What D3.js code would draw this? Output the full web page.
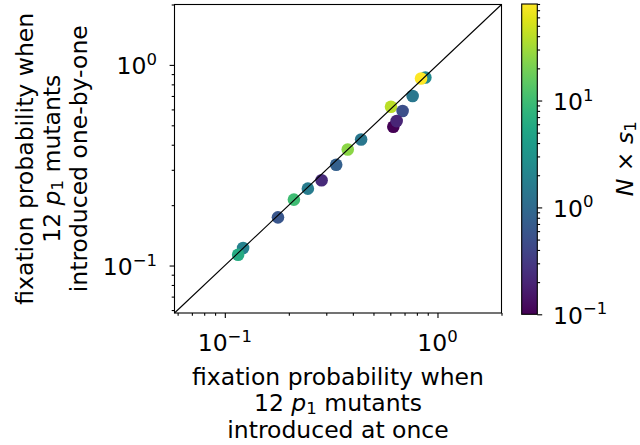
<!DOCTYPE html>
<html>
<head>
<meta charset="utf-8">
<script src="https://cdn.jsdelivr.net/npm/d3@7"></script>
<style>
  body { margin: 0; background: #fff; }
  svg { display: block; font-family: "DejaVu Sans", sans-serif; }
</style>
</head>
<body>
<svg id="chart" width="640" height="445"></svg>
<script>
// fixation probability, 12 p1 mutants introduced at once (x) vs one-by-one (y)
const X_AT_ONCE    = [0.1219, 0.1155, 0.1778, 0.2113, 0.2458, 0.2851, 0.334, 0.3785, 0.4375, 0.6045, 0.6855, 0.62, 0.6427, 0.764, 0.877, 0.837];
const Y_ONE_BY_ONE = [0.1222, 0.1131, 0.1738, 0.2131, 0.2417, 0.266, 0.3177, 0.379, 0.425, 0.619, 0.589, 0.492, 0.5248, 0.70, 0.865, 0.855];
const N_S1         = [1.9, 6, 0.6, 10, 1.6, 0.22, 0.75, 25, 1.4, 40, 0.5, 0.1, 0.2, 1.4, 2.3, 80];

const AXIS_DOMAIN = [0.058, 2];
const COLOR_DOMAIN = [0.1, 80];
const MAJOR_TICKS = [0.1, 1];
const MAJOR_EXP = ['\u22121', '0'];
const CBAR_TICKS = [0.1, 1, 10];
const CBAR_EXP = ['\u22121', '0', '1'];

(function () {
  'use strict';

  const svg = d3.select('#chart');
  const plot = { left: 174.5, right: 501.5, top: 4.5, bottom: 313 };
  const cbar = { left: 521.7, right: 537.3, top: 4, bottom: 314.3 };
  const FONT = 23.5;
  const SUP = 16.5;
  const MAJOR_LEN = 4.9;
  const MINOR_LEN = 2.8;

  const x = d3.scaleLog().domain(AXIS_DOMAIN).range([plot.left, plot.right]);
  const y = d3.scaleLog().domain(AXIS_DOMAIN).range([plot.bottom, plot.top]);
  const color = d3.scaleSequentialLog(d3.interpolateViridis).domain(COLOR_DOMAIN);
  const cy = d3.scaleLog().domain(COLOR_DOMAIN).range([cbar.bottom, cbar.top]);

  const isMajor = (v, majors) => majors.some(m => Math.abs(v - m) < 1e-9);
  const minorX = x.ticks().filter(v => !isMajor(v, MAJOR_TICKS));
  const minorC = cy.ticks().filter(v => !isMajor(v, CBAR_TICKS));

  // points
  svg.append('g')
    .selectAll('circle')
    .data(X_AT_ONCE.map((v, i) => ({ x: v, y: Y_ONE_BY_ONE[i], c: N_S1[i] })))
    .join('circle')
    .attr('cx', d => x(d.x))
    .attr('cy', d => y(d.y))
    .attr('r', 6.3)
    .attr('fill', d => color(d.c));

  // y = x reference line
  svg.append('line')
    .attr('x1', x(AXIS_DOMAIN[0])).attr('y1', y(AXIS_DOMAIN[0]))
    .attr('x2', x(AXIS_DOMAIN[1])).attr('y2', y(AXIS_DOMAIN[1]))
    .attr('stroke', '#000').attr('stroke-width', 1.1);

  function styleAxis(g) {
    g.select('.domain').remove();
    g.selectAll('.tick line').attr('stroke', '#000').attr('stroke-width', 1.1);
  }

  // x axis ticks
  svg.append('g').attr('transform', `translate(0,${plot.bottom})`)
    .call(d3.axisBottom(x).tickValues(minorX).tickSize(MINOR_LEN).tickFormat(''))
    .call(styleAxis);
  svg.append('g').attr('transform', `translate(0,${plot.bottom})`)
    .call(d3.axisBottom(x).tickValues(MAJOR_TICKS).tickSize(MAJOR_LEN).tickFormat(''))
    .call(styleAxis);

  // y axis ticks
  svg.append('g').attr('transform', `translate(${plot.left},0)`)
    .call(d3.axisLeft(y).tickValues(minorX).tickSize(MINOR_LEN).tickFormat(''))
    .call(styleAxis);
  svg.append('g').attr('transform', `translate(${plot.left},0)`)
    .call(d3.axisLeft(y).tickValues(MAJOR_TICKS).tickSize(MAJOR_LEN).tickFormat(''))
    .call(styleAxis);

  // frame
  svg.append('rect')
    .attr('x', plot.left).attr('y', plot.top)
    .attr('width', plot.right - plot.left).attr('height', plot.bottom - plot.top)
    .attr('fill', 'none').attr('stroke', '#000').attr('stroke-width', 1.1);

  function powerLabel(g, px, py, exp, anchor) {
    const t = g.append('text')
      .attr('x', px).attr('y', py)
      .attr('text-anchor', anchor)
      .attr('font-size', FONT)
      .attr('fill', '#000');
    t.append('tspan').text('10');
    t.append('tspan').attr('dy', -9.5).attr('font-size', SUP).text(exp);
    return t;
  }

  const labels = svg.append('g');
  MAJOR_TICKS.forEach((v, i) => {
    powerLabel(labels, x(v), 351, MAJOR_EXP[i], 'middle');
    powerLabel(labels, 157, y(v) + 9.5, MAJOR_EXP[i], 'end');
  });

  // x label
  const xl = svg.append('text')
    .attr('text-anchor', 'middle')
    .attr('font-size', FONT)
    .attr('fill', '#000');
  const xc = (plot.left + plot.right) / 2;
  xl.append('tspan').attr('x', xc).attr('y', 385).text('fixation probability when');
  const xl2 = xl.append('tspan').attr('x', xc).attr('y', 411);
  xl2.append('tspan').text('12 ');
  xl2.append('tspan').attr('font-style', 'italic').text('p');
  xl2.append('tspan').attr('font-size', SUP).attr('dy', 3).text('1');
  xl2.append('tspan').attr('dy', -3).text(' mutants');
  xl.append('tspan').attr('x', xc).attr('y', 438).text('introduced at once');

  // y label
  const yc = (plot.top + plot.bottom) / 2;
  const yl = svg.append('text')
    .attr('transform', `rotate(-90)`)
    .attr('text-anchor', 'middle')
    .attr('font-size', FONT)
    .attr('fill', '#000');
  yl.append('tspan').attr('x', -yc).attr('y', 33).text('fixation probability when');
  const yl2 = yl.append('tspan').attr('x', -yc).attr('y', 60);
  yl2.append('tspan').text('12 ');
  yl2.append('tspan').attr('font-style', 'italic').text('p');
  yl2.append('tspan').attr('font-size', SUP).attr('dy', 3).text('1');
  yl2.append('tspan').attr('dy', -3).text(' mutants');
  yl.append('tspan').attr('x', -yc).attr('y', 87).text('introduced one-by-one');

  // colorbar
  const grad = svg.append('defs').append('linearGradient')
    .attr('id', 'viridis-grad')
    .attr('x1', 0).attr('y1', 1).attr('x2', 0).attr('y2', 0);
  d3.range(0, 1.0001, 0.05).forEach(t => {
    grad.append('stop')
      .attr('offset', (t * 100) + '%')
      .attr('stop-color', d3.interpolateViridis(t));
  });
  svg.append('rect')
    .attr('x', cbar.left).attr('y', cbar.top)
    .attr('width', cbar.right - cbar.left).attr('height', cbar.bottom - cbar.top)
    .attr('fill', 'url(#viridis-grad)')
    .attr('stroke', '#000').attr('stroke-width', 1.1);

  svg.append('g').attr('transform', `translate(${cbar.right},0)`)
    .call(d3.axisRight(cy).tickValues(minorC).tickSize(MINOR_LEN).tickFormat(''))
    .call(styleAxis);
  svg.append('g').attr('transform', `translate(${cbar.right},0)`)
    .call(d3.axisRight(cy).tickValues(CBAR_TICKS).tickSize(MAJOR_LEN).tickFormat(''))
    .call(styleAxis);

  CBAR_TICKS.forEach((v, i) => {
    powerLabel(labels, 553, cy(v) + 9.5, CBAR_EXP[i], 'start');
  });

  // colorbar label
  const cl = svg.append('text')
    .attr('transform', `translate(633,${yc}) rotate(-90)`)
    .attr('text-anchor', 'middle')
    .attr('font-size', FONT)
    .attr('fill', '#000');
  cl.append('tspan').attr('font-style', 'italic').text('N');
  cl.append('tspan').text(' \u00d7 ');
  cl.append('tspan').attr('font-style', 'italic').text('s');
  cl.append('tspan').attr('font-size', SUP).attr('dy', 3).text('1');
})();
</script>
</body>
</html>
